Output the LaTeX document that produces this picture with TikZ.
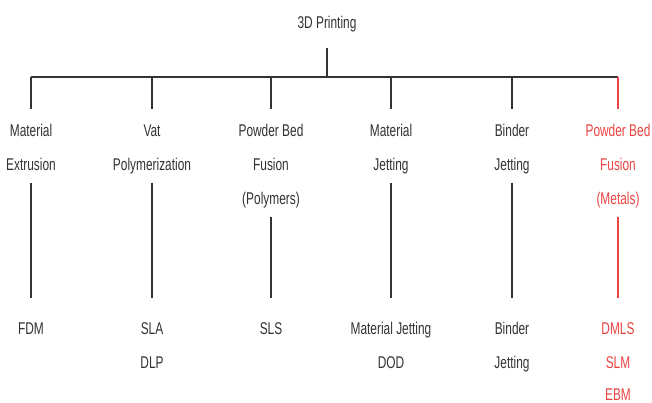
\documentclass[tikz,border=0pt]{standalone}
\usepackage{fontspec}
\setmainfont{Liberation Sans}[FakeStretch=0.70]
\definecolor{ink}{HTML}{333333}
\definecolor{hot}{HTML}{EA4543}
\begin{document}
\begin{tikzpicture}[x=1pt,y=-1pt,
  txt/.style={font=\fontsize{17}{20}\selectfont, text=ink, inner sep=0pt,
    text height=12pt, text depth=0pt, anchor=south},
  red/.style={text=hot},
  bar/.style={draw=ink, line width=1.7pt},
  drop/.style={draw=ink, line width=1.1pt, shorten >=16pt},
  stem/.style={draw=ink, line width=1.1pt, shorten <=12pt, shorten >=25pt}]
\clip (0,0) rectangle (652,403);
\fill[white] (0,0) rectangle (652,403);
% title
\node[txt] (T) at (327,29) {3D Printing};
\coordinate (bc) at (327,77);
\coordinate (b1) at (31,77);
\coordinate (b2) at (152,77);
\coordinate (b3) at (271,77);
\coordinate (b4) at (391,77);
\coordinate (b5) at (512,77);
\coordinate (b6) at (618,77);
% categories
\node[txt] (c1a) at (31,137) {Material};
\node[txt] (c1b) at (31,171) {Extrusion};
\node[txt] (c2a) at (152,137) {Vat};
\node[txt] (c2b) at (152,171) {Polymerization};
\node[txt] (c3a) at (271,137) {Powder Bed};
\node[txt] (c3b) at (271,171) {Fusion};
\node[txt] (c3c) at (271,205) {(Polymers)};
\node[txt] (c4a) at (391,137) {Material};
\node[txt] (c4b) at (391,171) {Jetting};
\node[txt] (c5a) at (512,137) {Binder};
\node[txt] (c5b) at (512,171) {Jetting};
\node[txt,red] (c6a) at (618,137) {Powder Bed};
\node[txt,red] (c6b) at (618,171) {Fusion};
\node[txt,red] (c6c) at (618,205) {(Metals)};
% leaves
\node[txt] (l1a) at (31,335) {FDM};
\node[txt] (l2a) at (152,335) {SLA};
\node[txt] (l2b) at (152,369) {DLP};
\node[txt] (l3a) at (271,335) {SLS};
\node[txt] (l4a) at (391,335) {Material Jetting};
\node[txt] (l4b) at (391,369) {DOD};
\node[txt] (l5a) at (512,335) {Binder};
\node[txt] (l5b) at (512,369) {Jetting};
\node[txt,red] (l6a) at (618,335) {DMLS};
\node[txt,red] (l6b) at (618,369) {SLM};
\node[txt,red] (l6c) at (618,400.5) {EBM};
% connectors
\draw[draw=ink, line width=1.1pt, shorten <=19pt] (T.south) -- (bc);
\draw[bar] (b1) -- (b6);
\draw[drop] (b1) -- (c1a.north);
\draw[drop] (b2) -- (c2a.north);
\draw[drop] (b3) -- (c3a.north);
\draw[drop] (b4) -- (c4a.north);
\draw[drop] (b5) -- (c5a.north);
\draw[drop, draw=hot] (b6) -- (c6a.north);
\draw[stem] (c1b.south) -- (l1a.north);
\draw[stem] (c2b.south) -- (l2a.north);
\draw[stem] (c3c.south) -- (l3a.north);
\draw[stem] (c4b.south) -- (l4a.north);
\draw[stem] (c5b.south) -- (l5a.north);
\draw[stem, draw=hot] (c6c.south) -- (l6a.north);
\end{tikzpicture}
\end{document}
